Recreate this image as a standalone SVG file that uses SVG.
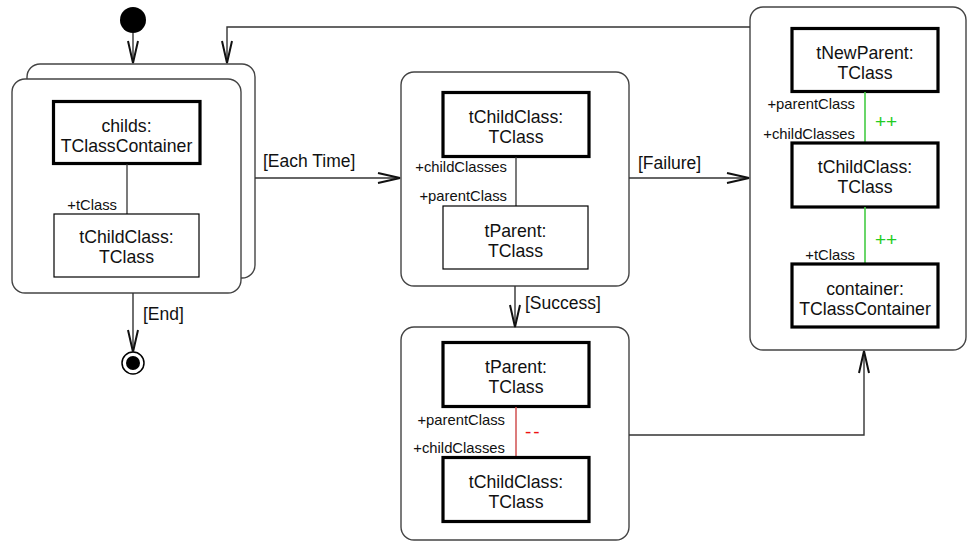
<svg xmlns="http://www.w3.org/2000/svg" width="968" height="542" viewBox="0 0 968 542">
<defs>
<marker id="open" markerUnits="userSpaceOnUse" markerWidth="26" markerHeight="14" refX="23" refY="7" orient="auto" overflow="visible">
<path d="M1,2 L23,7 L1,12" fill="none" stroke="#111" stroke-width="2"/>
</marker>
<style>
.state{fill:#fff;stroke:#444;stroke-width:1.4}
.obj{fill:#fff;stroke:#000;stroke-width:3.2}
.objt{fill:#fff;stroke:#000;stroke-width:1.2}
.t{font-family:"Liberation Sans",Arial,sans-serif;font-size:17.7px;fill:#111;text-anchor:middle}
.lbl{font-family:"Liberation Sans",Arial,sans-serif;font-size:17.5px;fill:#111}
.role{font-family:"Liberation Sans",Arial,sans-serif;font-size:14.8px;fill:#111;text-anchor:end}
.edge{fill:none;stroke:#333;stroke-width:1.4}
.assoc{stroke:#333;stroke-width:1.3}
.green{stroke:#44cc44;stroke-width:1.6}
.red{stroke:#d05050;stroke-width:1.5}
.mark{font-family:"Liberation Sans",Arial,sans-serif;font-size:19px}
</style>
</defs>

<g id="initial">
<circle cx="133" cy="20" r="13" fill="#000"/>
</g>

<g id="state-loop">
<rect class="state" x="27" y="64" width="228" height="214" rx="13"/>
<rect class="state" x="12" y="79" width="229" height="214" rx="13"/>
<g id="loop-childs">
<rect class="obj" x="53.5" y="101.5" width="146.5" height="62"/>
<text class="t" x="126.5" y="132">childs:</text>
<text class="t" x="126.5" y="152">TClassContainer</text>
</g>
<line class="assoc" x1="127" y1="164" x2="127" y2="214"/>
<text class="role" x="117" y="210">+tClass</text>
<g id="loop-tchild">
<rect class="objt" x="54" y="214" width="145" height="63"/>
<text class="t" x="126.5" y="243">tChildClass:</text>
<text class="t" x="126.5" y="263">TClass</text>
</g>
</g>

<g id="state-check">
<rect class="state" x="401" y="72" width="228" height="214" rx="13"/>
<g id="check-tchild">
<rect class="obj" x="443" y="92.5" width="146" height="64"/>
<text class="t" x="516" y="123">tChildClass:</text>
<text class="t" x="516" y="143">TClass</text>
</g>
<line class="assoc" x1="516" y1="157" x2="516" y2="206"/>
<text class="role" x="507" y="172">+childClasses</text>
<text class="role" x="507" y="200.5">+parentClass</text>
<g id="check-tparent">
<rect class="objt" x="443" y="206" width="145" height="63"/>
<text class="t" x="515.5" y="236.5">tParent:</text>
<text class="t" x="515.5" y="256.5">TClass</text>
</g>
</g>

<g id="state-success">
<rect class="state" x="401" y="327" width="228" height="213" rx="13"/>
<g id="success-tparent">
<rect class="obj" x="443" y="342.5" width="146" height="64"/>
<text class="t" x="516" y="373">tParent:</text>
<text class="t" x="516" y="393">TClass</text>
</g>
<line class="red" x1="516" y1="407" x2="516" y2="457"/>
<text class="mark" x="525" y="438" fill="#ee1111" letter-spacing="2">--</text>
<text class="role" x="505" y="424.5">+parentClass</text>
<text class="role" x="505" y="453">+childClasses</text>
<g id="success-tchild">
<rect class="obj" x="443" y="457.5" width="146" height="64"/>
<text class="t" x="516" y="488">tChildClass:</text>
<text class="t" x="516" y="508">TClass</text>
</g>
</g>

<g id="state-failure">
<rect class="state" x="750" y="7" width="216" height="343" rx="13"/>
<g id="failure-tnewparent">
<rect class="obj" x="792" y="28.5" width="146" height="63"/>
<text class="t" x="865" y="58.5">tNewParent:</text>
<text class="t" x="865" y="78.5">TClass</text>
</g>
<line class="green" x1="865" y1="92" x2="865" y2="143"/>
<text class="role" x="855" y="108.5">+parentClass</text>
<text class="role" x="855" y="139">+childClasses</text>
<text class="mark" x="875" y="127.5" fill="#22cc22">++</text>
<g id="failure-tchild">
<rect class="obj" x="792" y="143" width="146" height="64"/>
<text class="t" x="865" y="172.5">tChildClass:</text>
<text class="t" x="865" y="192.5">TClass</text>
</g>
<line class="green" x1="865" y1="207" x2="865" y2="264"/>
<text class="mark" x="875" y="245.5" fill="#22cc22">++</text>
<text class="role" x="855" y="260">+tClass</text>
<g id="failure-container">
<rect class="obj" x="792" y="264" width="146" height="63"/>
<text class="t" x="865" y="294.5">container:</text>
<text class="t" x="865" y="314.5">TClassContainer</text>
</g>
</g>

<g id="final">
<circle cx="133" cy="363" r="11" fill="#fff" stroke="#000" stroke-width="1.5"/>
<circle cx="133" cy="363" r="7" fill="#000"/>
</g>

<g id="connectors">
<path class="edge" d="M133,33 V63" marker-end="url(#open)"/>
<path class="edge" d="M750,27 H227 V63" marker-end="url(#open)"/>
<path class="edge" d="M255,178 H400" marker-end="url(#open)"/>
<text class="lbl" x="263" y="167">[Each Time]</text>
<path class="edge" d="M629,178 H749" marker-end="url(#open)"/>
<text class="lbl" x="638" y="169">[Failure]</text>
<path class="edge" d="M515,286 V327" marker-end="url(#open)"/>
<text class="lbl" x="525" y="308.5">[Success]</text>
<path class="edge" d="M133,293 V352" marker-end="url(#open)"/>
<text class="lbl" x="143" y="320">[End]</text>
<path class="edge" d="M629,435 H864 V351" marker-end="url(#open)"/>
</g>
</svg>
